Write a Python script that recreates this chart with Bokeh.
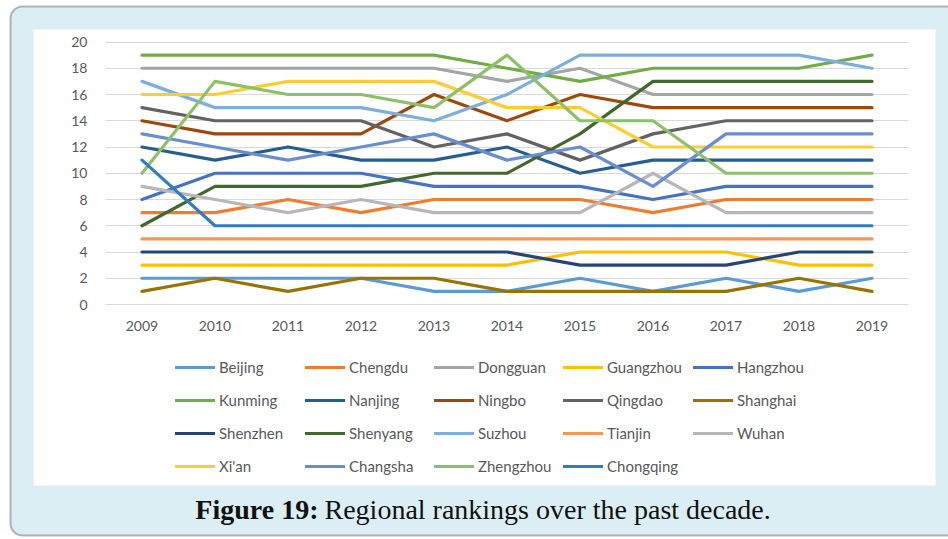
from bokeh.plotting import figure
from bokeh.models import Legend, LegendItem, Label, BoxAnnotation, FixedTicker
from bokeh.embed import file_html
from bokeh.resources import INLINE

years = [2009, 2010, 2011, 2012, 2013, 2014, 2015, 2016, 2017, 2018, 2019]

beijing = [2, 2, 2, 2, 1, 1, 2, 1, 2, 1, 2]
chengdu = [7, 7, 8, 7, 8, 8, 8, 7, 8, 8, 8]
dongguan = [18, 18, 18, 18, 18, 17, 18, 16, 16, 16, 16]
guangzhou = [3, 3, 3, 3, 3, 3, 4, 4, 4, 3, 3]
hangzhou = [8, 10, 10, 10, 9, 9, 9, 8, 9, 9, 9]
kunming = [19, 19, 19, 19, 19, 18, 17, 18, 18, 18, 19]
nanjing = [12, 11, 12, 11, 11, 12, 10, 11, 11, 11, 11]
ningbo = [14, 13, 13, 13, 16, 14, 16, 15, 15, 15, 15]
qingdao = [15, 14, 14, 14, 12, 13, 11, 13, 14, 14, 14]
shanghai = [1, 2, 1, 2, 2, 1, 1, 1, 1, 2, 1]
shenzhen = [4, 4, 4, 4, 4, 4, 3, 3, 3, 4, 4]
shenyang = [6, 9, 9, 9, 10, 10, 13, 17, 17, 17, 17]
suzhou = [17, 15, 15, 15, 14, 16, 19, 19, 19, 19, 18]
tianjin = [5, 5, 5, 5, 5, 5, 5, 5, 5, 5, 5]
wuhan = [9, 8, 7, 8, 7, 7, 7, 10, 7, 7, 7]
xian = [16, 16, 17, 17, 17, 15, 15, 12, 12, 12, 12]
changsha = [13, 12, 11, 12, 13, 11, 12, 9, 13, 13, 13]
zhengzhou = [10, 17, 16, 16, 15, 19, 14, 14, 10, 10, 10]
chongqing = [11, 6, 6, 6, 6, 6, 6, 6, 6, 6, 6]

city_names = ["Beijing", "Chengdu", "Dongguan", "Guangzhou", "Hangzhou",
              "Kunming", "Nanjing", "Ningbo", "Qingdao", "Shanghai",
              "Shenzhen", "Shenyang", "Suzhou", "Tianjin", "Wuhan",
              "Xi'an", "Changsha", "Zhengzhou", "Chongqing"]
city_values = [beijing, chengdu, dongguan, guangzhou, hangzhou,
               kunming, nanjing, ningbo, qingdao, shanghai,
               shenzhen, shenyang, suzhou, tianjin, wuhan,
               xian, changsha, zhengzhou, chongqing]
y_ticks = [0, 2, 4, 6, 8, 10, 12, 14, 16, 18, 20]
caption_bold = "Figure 19:"
caption_rest = "Regional rankings over the past decade."

colors = ["#5B9BD5", "#ED7D31", "#A5A5A5", "#FFC000", "#4472C4",
          "#70AD47", "#255E91", "#9E480E", "#636363", "#997300",
          "#264478", "#43682B", "#7CAFDD", "#F1975A", "#B7B7B7",
          "#FFCD33", "#698ED0", "#8CC168", "#327DC2"]

TXT = "#595959"

# ---- layout (canvas pixels) ----
W, H = 948, 539
X_LEFT_PX, X_RIGHT_PX = 105.0, 908.0     # plot area horizontal extent
Y_TOP_PX, Y_BOT_PX = 41.5, 304.0         # y=20 and y=0 positions
x_lo, x_hi = years[0] - 0.5, years[-1] + 0.5
y_lo, y_hi = y_ticks[0], y_ticks[-1]
ppx = (X_RIGHT_PX - X_LEFT_PX) / (x_hi - x_lo)
ppy = (Y_BOT_PX - Y_TOP_PX) / (y_hi - y_lo)
x_start = x_lo - X_LEFT_PX / ppx
x_end = x_start + W / ppx
y_end = y_hi + Y_TOP_PX / ppy
y_start = y_end - H / ppy


def dx(px):
    return x_start + px / ppx


def dy(py):
    return y_end - py / ppy


p = figure(width=W, height=H, x_range=(x_start, x_end), y_range=(y_start, y_end),
           output_backend="svg", toolbar_location=None,
           min_border_left=0, min_border_right=0,
           min_border_top=0, min_border_bottom=0)
p.border_fill_color = "white"
p.background_fill_color = "white"
p.outline_line_color = None

outer = BoxAnnotation(left=dx(10), right=dx(W + 20), top=dy(6), bottom=dy(535),
                      fill_color="#DAEEF3", fill_alpha=1.0,
                      line_color="#1a1a1a", line_width=2, border_radius=12,
                      level="image")
inner = BoxAnnotation(left=dx(33), right=dx(935), top=dy(29), bottom=dy(485),
                      fill_color="white", fill_alpha=1.0, line_color=None,
                      level="image")
p.add_layout(outer)
p.add_layout(inner)

p.xaxis.ticker = FixedTicker(ticks=years)
p.yaxis.ticker = FixedTicker(ticks=y_ticks)
p.xaxis.fixed_location = y_lo
p.yaxis.fixed_location = x_lo
for ax in (p.xaxis, p.yaxis):
    ax.axis_line_color = None
    ax.major_tick_line_color = None
    ax.minor_tick_line_color = None
    ax.major_label_text_font = "Lato"
    ax.major_label_text_font_size = "14px"
    ax.major_label_text_color = TXT
p.yaxis.major_label_standoff = 12
p.xaxis.major_label_standoff = 10
p.xgrid.grid_line_color = None
p.ygrid.grid_line_color = "#D9D9D9"
p.ygrid.grid_line_width = 1
p.ygrid.bounds = (y_lo, y_hi)
try:
    p.ygrid.cross_bounds = (x_lo, x_hi)
except Exception:
    p.ygrid.grid_line_color = None
    p.segment(x0=[x_lo] * len(y_ticks), x1=[x_hi] * len(y_ticks), y0=y_ticks, y1=y_ticks,
              line_color="#D9D9D9", line_width=1)

renderers = {}
for name, vals, col in zip(city_names, city_values, colors):
    r = p.line(years, vals, line_color=col, line_width=3.2,
               line_cap="round", line_join="round")
    renderers[name] = r

ncols = 5
col_x = [175, 305, 434, 563, 693]
ROW1_TOP = 357
for c in range(ncols):
    names = city_names[c::ncols]
    items = [LegendItem(label=n, renderers=[renderers[n]]) for n in names]
    n = len(items)
    h = n * 20 + (n - 1) * 13
    lg = Legend(items=items, location=(col_x[c], H - (ROW1_TOP + h)),
                orientation="vertical",
                padding=0, margin=0, spacing=13, glyph_width=40, glyph_height=20,
                label_height=20, label_standoff=4,
                border_line_color=None, background_fill_alpha=0,
                label_text_font="Lato", label_text_font_size="15px",
                label_text_color=TXT)
    p.add_layout(lg)

cap_bold = Label(x=dx(318), y=dy(509), text=caption_bold, text_font="Liberation Serif",
                 text_font_style="bold", text_font_size="28px",
                 text_color="#111111", text_align="right", text_baseline="middle")
cap_rest = Label(x=dx(324), y=dy(509), text=caption_rest,
                 text_font="Liberation Serif", text_font_size="28px",
                 text_color="#111111", text_align="left", text_baseline="middle")
p.add_layout(cap_bold)
p.add_layout(cap_rest)

open("out.html", "w").write(file_html(p, INLINE))
